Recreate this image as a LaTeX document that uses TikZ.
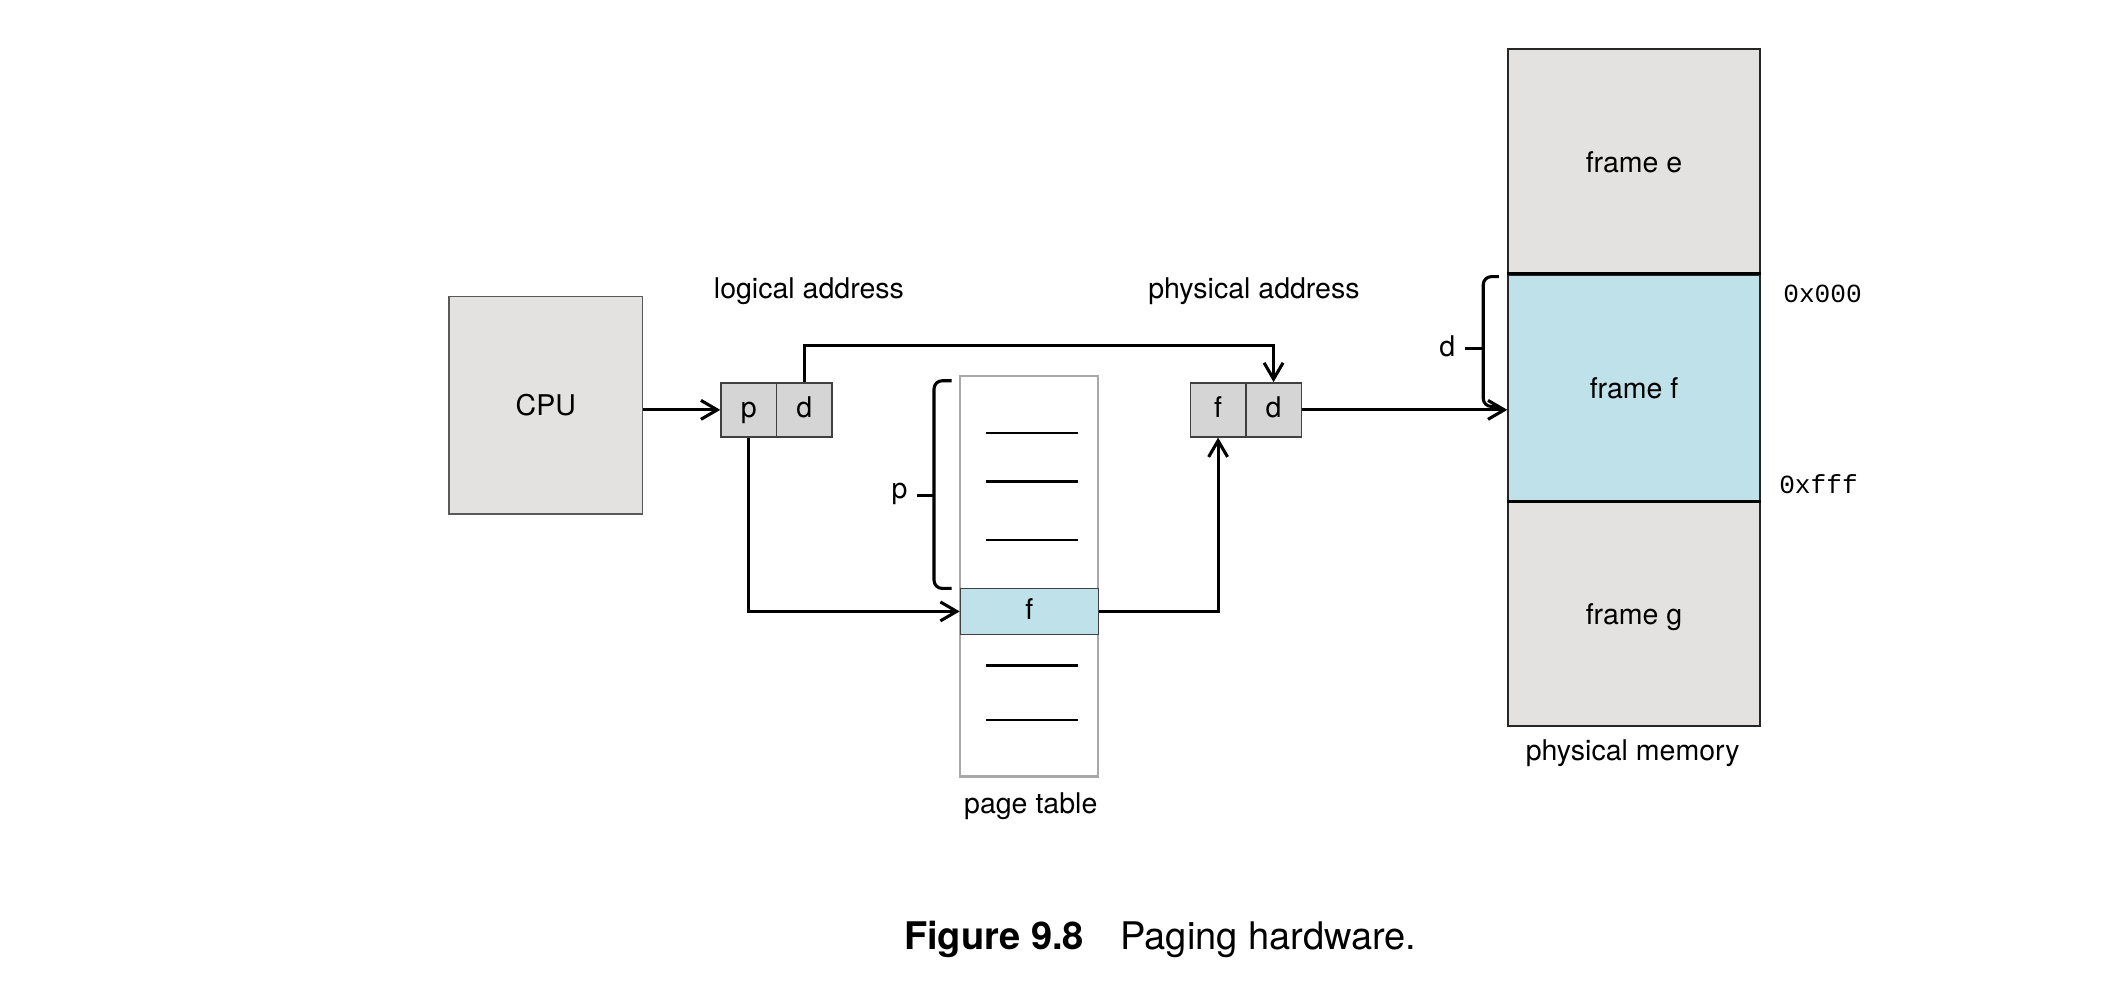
\documentclass[tikz,border=0pt]{standalone}
\usepackage{fontspec}
\setmainfont{TeX Gyre Heros}
\setmonofont{Liberation Mono}
\usetikzlibrary{arrows.meta}
\definecolor{boxgray}{HTML}{E3E2E1}
\definecolor{cellgray}{HTML}{D5D5D5}
\definecolor{frameblue}{HTML}{BFE1EA}
\definecolor{tablegray}{HTML}{A8A8A8}
\begin{document}
\begin{tikzpicture}[
	every node/.style={font=\fontsize{12}{14}\selectfont},
	box/.style={draw=black!65, line width=0.6pt, fill=boxgray, inner sep=0pt},
	cell/.style={draw=black!75, line width=0.6pt, fill=cellgray, minimum width=0.82cm, minimum height=0.80cm, inner sep=0pt, text height=1.6ex, text depth=0.3ex},
	memframe/.style={draw=black!85, line width=0.8pt, fill=boxgray, minimum width=3.72cm, minimum height=3.34cm, inner sep=0pt, text height=2.05ex, text depth=0.3ex},
	link/.style={line width=1.3pt, -{Straight Barb[length=2.4mm,width=2.8mm,line width=1.3pt]}},
	bracket/.style={line width=1.3pt, rounded corners=0.12cm},
	hexaddr/.style={font=\ttfamily\fontsize{11}{13}\selectfont, anchor=west, inner sep=0pt},
]
				\useasboundingbox (0,0) rectangle (31.36,-14.785);
				\node[box, minimum width=2.86cm, minimum height=3.22cm] (cpu) at (8.07,-5.99) {CPU};
				\node (logical) at (11.96,-4.30) {logical address};
				\node[cell] (logp) at (11.07,-6.06) {p};
				\node[cell] (logd) at (11.89,-6.06) {d};
				\node (physical) at (18.54,-4.30) {physical address};
				\node[cell] (phyf) at (18.01,-6.06) {f};
				\node[cell] (phyd) at (18.83,-6.06) {d};
				\node[draw=tablegray, line width=0.9pt, minimum width=2.04cm, minimum height=5.92cm, inner sep=0pt] (table) at (15.22,-8.52) {};
				\node[draw=black!75, line width=0.6pt, fill=frameblue, minimum width=2.04cm, minimum height=0.68cm, inner sep=0pt, text height=1.6ex, text depth=0.3ex] (entry) at (15.22,-9.04) {f};
				\draw[line width=0.9pt] (14.58,-6.40) -- (15.94,-6.40);
				\draw[line width=0.9pt] (14.58,-7.12) -- (15.94,-7.12);
				\draw[line width=0.9pt] (14.58,-7.98) -- (15.94,-7.98);
				\draw[line width=0.9pt] (14.58,-9.84) -- (15.94,-9.84);
				\draw[line width=0.9pt] (14.58,-10.64) -- (15.94,-10.64);
				\node (tablelabel) at (15.24,-11.92) {page table};
				\node[memframe] (framee) at (24.16,-2.39) {frame e};
				\node[memframe, fill=frameblue] (framef) at (24.16,-5.73) {frame f};
				\node[memframe] (frameg) at (24.16,-9.07) {frame g};
				\draw[line width=1.5pt] (framef.north west) -- (framef.north east);
				\draw[line width=1.5pt] (framef.south west) -- (framef.south east);
				\node (memlabel) at (24.14,-11.14) {physical memory};
				\node[hexaddr] (low) at (26.36,-4.34) {0x000};
				\node[hexaddr] (high) at (26.30,-7.16) {0xfff};
				\draw[link] (cpu.east |- logp.west) -- (logp.west);
				\draw[link] (logd.north) -- ++(0,0.54) -| (phyd.north);
				\draw[link] (logp.south) |- (entry.west);
				\draw[link] (entry.east) -| (phyf.south);
				\draw[link] (phyd.east) -- (framef.west |- phyd.east);
				\draw[bracket] (14.07,-5.63) -- (13.81,-5.63) -- (13.81,-8.70) -- (14.07,-8.70);
				\draw[line width=1.3pt] (13.81,-7.32) -- (13.56,-7.32);
				\node (pbrace) at (13.30,-7.30) {p};
				\draw[bracket] (22.16,-4.09) -- (21.93,-4.09) -- (21.93,-6.01) -- (22.16,-6.01);
				\draw[line width=1.3pt] (21.93,-5.15) -- (21.66,-5.15);
				\node (dbrace) at (21.40,-5.12) {d};
				\node[anchor=base west, inner sep=0pt, font=\bfseries\fontsize{16}{19}\selectfont] (fignum) at (13.36,-14.04) {Figure 9.8};
				\node[anchor=base west, inner sep=0pt, font=\fontsize{16}{19}\selectfont] (figtitle) at (16.56,-14.04) {Paging hardware.};
\end{tikzpicture}
\end{document}
